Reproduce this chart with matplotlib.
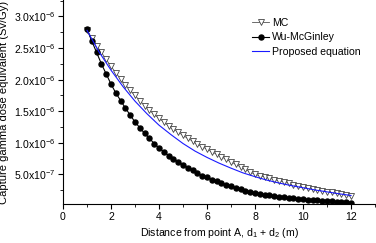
import numpy as np
import matplotlib
matplotlib.use("Agg")
import matplotlib.pyplot as plt
from matplotlib.ticker import MultipleLocator, FuncFormatter

plt.rcParams['font.family'] = ['Liberation Sans', 'DejaVu Sans']
plt.rcParams['mathtext.fontset'] = 'custom'
plt.rcParams['mathtext.rm'] = 'Liberation Sans'
plt.rcParams['mathtext.it'] = 'Liberation Sans:italic'
plt.rcParams['mathtext.bf'] = 'Liberation Sans:bold'

# distance d1 + d2 (m), sampled every 0.2 m
dist = np.round(np.arange(1.0, 12.01, 0.2), 1)

# MC values (x1e-6 Sv/Gy)
mc = [2.78, 2.66, 2.54, 2.43, 2.32, 2.21, 2.11, 2.01, 1.92, 1.83,
      1.75, 1.67, 1.59, 1.52, 1.45, 1.39, 1.33, 1.27, 1.22, 1.17,
      1.12, 1.07, 1.03, 0.98, 0.94, 0.90, 0.86, 0.82, 0.78, 0.74,
      0.70, 0.66, 0.62, 0.58, 0.54, 0.50, 0.48, 0.46, 0.44, 0.42,
      0.40, 0.38, 0.36, 0.34, 0.32, 0.305, 0.29, 0.275, 0.26, 0.245,
      0.23, 0.215, 0.20, 0.185, 0.17, 0.155]

# Wu-McGinley values (x1e-6 Sv/Gy)
wu = [2.80, 2.61, 2.43, 2.25, 2.09, 1.93, 1.79, 1.67, 1.55, 1.44,
      1.33, 1.24, 1.15, 1.07, 0.99, 0.92, 0.86, 0.80, 0.75, 0.70,
      0.655, 0.61, 0.57, 0.52, 0.48, 0.455, 0.42, 0.39, 0.36, 0.335,
      0.31, 0.285, 0.265, 0.245, 0.225, 0.21, 0.195, 0.18, 0.17, 0.16,
      0.15, 0.14, 0.132, 0.124, 0.116, 0.108, 0.101, 0.095, 0.089, 0.083,
      0.078, 0.073, 0.068, 0.064, 0.060, 0.056]

# proposed equation, read every 0.5 m
eq_x = [1.0, 1.5, 2.0, 2.5, 3.0, 3.5, 4.0, 4.5, 5.0, 5.5, 6.0, 6.5,
        7.0, 7.5, 8.0, 8.5, 9.0, 9.5, 10.0, 10.5, 11.0, 11.5, 12.0]
eq_y = [2.78, 2.44, 2.15, 1.89, 1.66, 1.46, 1.28, 1.13, 0.99, 0.87, 0.77, 0.68,
        0.60, 0.525, 0.465, 0.41, 0.365, 0.325, 0.29, 0.255, 0.225, 0.195, 0.168]

scale = 1e-6

fig = plt.figure(figsize=(3.76, 2.43), dpi=100)
ax = fig.add_axes([63 / 376, 39 / 243, 312 / 376, 204 / 243])

ax.plot(dist, np.array(mc) * scale, color='#555555', lw=0.6, marker='v',
        markersize=4.4, markerfacecolor='white', markeredgecolor='#444444',
        markeredgewidth=0.6, label='MC')
ax.plot(dist, np.array(wu) * scale, color='black', lw=0.8, marker='o',
        markersize=3.6, markerfacecolor='black', markeredgecolor='black',
        label='Wu-McGinley')
ax.plot(eq_x, np.array(eq_y) * scale, color='#1a1aff', lw=0.8,
        label='Proposed equation')

ax.set_xlim(0, 13)
ax.set_ylim(0.033e-6, 3.26e-6)

ax.xaxis.set_major_locator(MultipleLocator(2))
ax.xaxis.set_minor_locator(MultipleLocator(1))
ax.yaxis.set_major_locator(MultipleLocator(0.5e-6))
ax.yaxis.set_minor_locator(MultipleLocator(0.25e-6))


def sci(v, pos):
    if v <= 0:
        return ''
    exp = int(np.floor(np.log10(v) + 1e-9))
    mant = v / 10 ** exp
    return f'{mant:.1f}x10$^{{{exp}}}$'


ax.yaxis.set_major_formatter(FuncFormatter(sci))

for side in ['top', 'right']:
    ax.spines[side].set_visible(False)
for side in ['left', 'bottom']:
    ax.spines[side].set_linewidth(0.8)

ax.tick_params(which='major', direction='out', length=3.5, width=0.8,
               labelsize=7.6, pad=2)
ax.tick_params(which='minor', direction='out', length=2, width=0.6)

ax.set_xlabel('Distance from point A, d$_1$ + d$_2$ (m)', fontsize=7.6, labelpad=3)
ax.set_ylabel('Capture gamma dose equivalent (Sv/Gy)', fontsize=8.0, labelpad=3)

ax.legend(loc='upper right', bbox_to_anchor=(0.975, 0.945), frameon=False,
          fontsize=7.6, handlelength=1.6, handletextpad=0.3,
          labelspacing=0.45, borderaxespad=0.2)

fig.savefig('out.png', dpi=100)
